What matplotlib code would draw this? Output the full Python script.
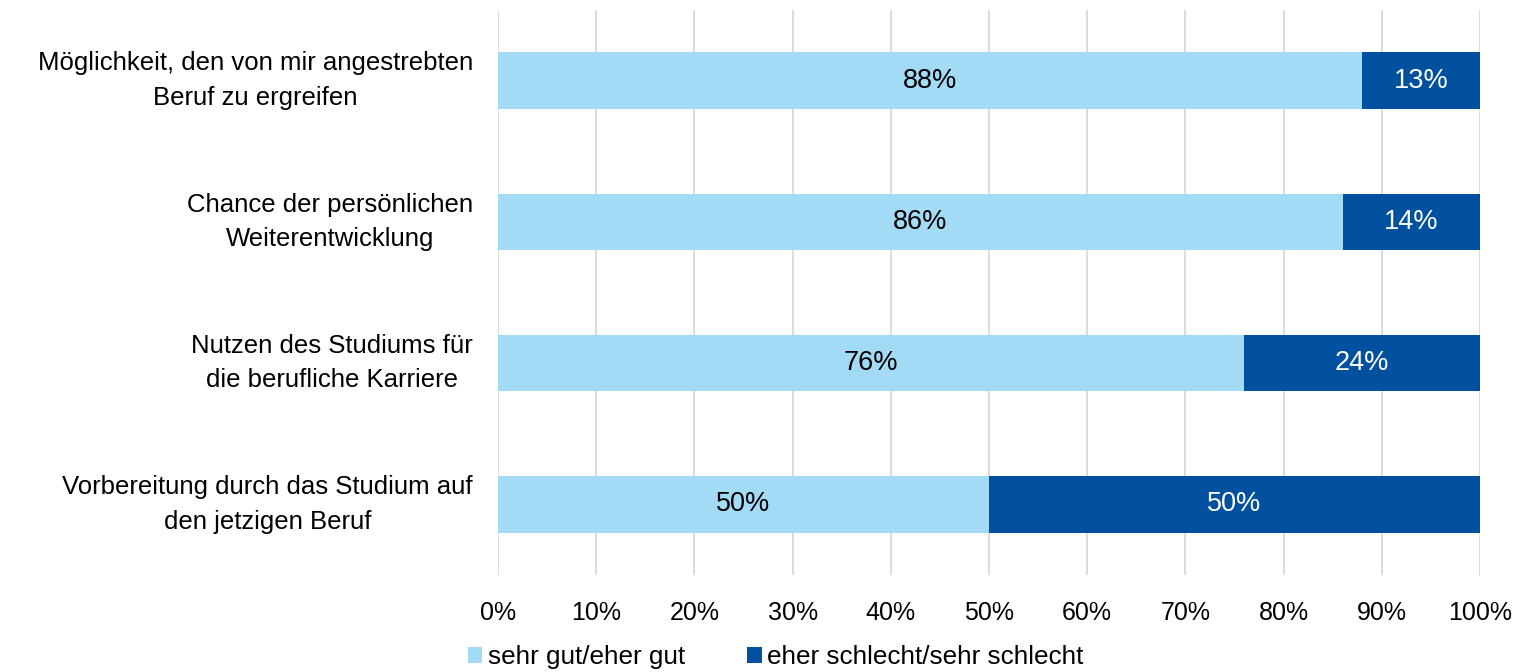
import matplotlib
matplotlib.use("Agg")
import matplotlib.pyplot as plt
import numpy as np

plt.rcParams["font.family"] = ["Liberation Sans", "DejaVu Sans"]

# 数据
categories = [
    "Möglichkeit, den von mir angestrebten\nBeruf zu ergreifen",
    "Chance der persönlichen\nWeiterentwicklung",
    "Nutzen des Studiums für\ndie berufliche Karriere",
    "Vorbereitung durch das Studium auf\nden jetzigen Beruf",
]
gut = [88, 86, 76, 50]
schlecht = [12, 14, 24, 50]
gut_labels = ["88%", "86%", "76%", "50%"]
schlecht_labels = ["13%", "14%", "24%", "50%"]
series_names = ["sehr gut/eher gut", "eher schlecht/sehr schlecht"]

c_light = "#A3DAF6"
c_dark = "#0050A0"

fig = plt.figure(figsize=(15.24, 6.72), dpi=100)
ax = fig.add_axes([498 / 1524, 1 - 575 / 672, (1480 - 498) / 1524, (575 - 10) / 672])

y = np.arange(len(categories))[::-1]
b1 = ax.barh(y, gut, height=0.4, color=c_light, label=series_names[0], zorder=3)
b2 = ax.barh(y, schlecht, left=gut, height=0.4, color=c_dark, label=series_names[1], zorder=3)

for bar, txt in zip(b1, gut_labels):
    ax.text(bar.get_x() + bar.get_width() / 2, bar.get_y() + bar.get_height() / 2, txt,
            ha="center", va="center", fontsize=19.5, color="black", zorder=4)
for bar, txt in zip(b2, schlecht_labels):
    ax.text(bar.get_x() + bar.get_width() / 2, bar.get_y() + bar.get_height() / 2, txt,
            ha="center", va="center", fontsize=19.5, color="white", zorder=4)

ax.set_xlim(0, 100)
ax.set_ylim(-0.5, 3.5)
ax.set_xticks(np.arange(0, 101, 10))
ax.set_xticklabels([f"{v}%" for v in range(0, 101, 10)], fontsize=18)
ax.set_yticks(y)
ax.set_yticklabels(categories, fontsize=18.5, linespacing=1.55)
for lbl in ax.get_yticklabels():
    lbl.set_multialignment("center")
    lbl.set_verticalalignment("center")

ax.grid(axis="x", color="#D9D9D9", linewidth=1.3, zorder=0)
for s in ax.spines.values():
    s.set_visible(False)
ax.tick_params(axis="both", length=0)
ax.tick_params(axis="x", pad=19)
ax.tick_params(axis="y", pad=18)

fig.legend(handles=[b1, b2], labels=series_names, loc="center", bbox_to_anchor=(0.509, 0.022),
           ncol=2, frameon=False, fontsize=18.8, handlelength=0.55, handleheight=0.55,
           handletextpad=0.2, columnspacing=2.4)

plt.savefig("out.png", dpi=100)
plt.close()
